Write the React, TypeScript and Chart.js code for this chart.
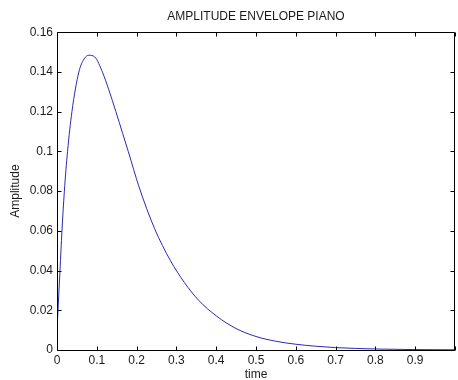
import React, { useEffect, useRef } from "react";
import { Chart, registerables } from "chart.js";

Chart.register(...registerables);

const chartTitle = "AMPLITUDE ENVELOPE PIANO";
const xLabel = "time";
const yLabel = "Amplitude";

const timeValues = [
  0, 0.0025, 0.0075, 0.0125, 0.0185, 0.0265, 0.0375, 0.055, 0.068, 0.08,
  0.095, 0.115, 0.13, 0.148, 0.165, 0.179, 0.206, 0.245, 0.285, 0.32, 0.356,
  0.4, 0.45, 0.5, 0.55, 0.6, 0.65, 0.7, 0.75, 0.8, 0.9, 1.0,
];
const amplitudeValues = [
  0.01, 0.02, 0.04, 0.06, 0.08, 0.1, 0.12, 0.14, 0.1465, 0.1484,
  0.1475, 0.1395, 0.1311, 0.12, 0.109, 0.1, 0.0822, 0.0612, 0.045, 0.034,
  0.025, 0.0172, 0.0108, 0.0068, 0.0044, 0.0029, 0.0019, 0.0012, 0.0008,
  0.0005, 0.0002, 0.0001,
];

const xMin = 0;
const xMax = 1;
const xStep = 0.1;
const yMin = 0;
const yMax = 0.16;
const yStep = 0.02;

const textColor = "#1a1a1a";
const lineColor = "#2a2ab4";
const fontFamily = "'Liberation Sans', Arial, sans-serif";

const matlabAxes = {
  id: "matlabAxes",
  afterDraw(chart: any) {
    const { ctx, chartArea } = chart;
    const xs = chart.scales.x;
    const ys = chart.scales.y;
    const l = Math.round(chartArea.left) + 0.5;
    const r = Math.round(chartArea.right) - 0.5;
    const t = Math.round(chartArea.top) + 0.5;
    const b = Math.round(chartArea.bottom) + 0.5;
    const len = 4;
    ctx.save();
    ctx.strokeStyle = "#000";
    ctx.lineWidth = 1;
    ctx.beginPath();
    ctx.moveTo(l, t);
    ctx.lineTo(r, t);
    ctx.lineTo(r, b);
    ctx.lineTo(l, b);
    ctx.closePath();
    ctx.stroke();
    ctx.beginPath();
    xs.ticks.forEach((tk: any) => {
      const px = Math.round(xs.getPixelForValue(tk.value)) + 0.5;
      ctx.moveTo(px, b);
      ctx.lineTo(px, b - len);
      ctx.moveTo(px, t);
      ctx.lineTo(px, t + len);
    });
    ys.ticks.forEach((tk: any) => {
      const py = Math.round(ys.getPixelForValue(tk.value)) + 0.5;
      ctx.moveTo(l, py);
      ctx.lineTo(l + len, py);
      ctx.moveTo(r, py);
      ctx.lineTo(r - len, py);
    });
    ctx.stroke();
    ctx.restore();
  },
};

export default function App() {
  const canvasRef = useRef<HTMLCanvasElement | null>(null);

  useEffect(() => {
    if (!canvasRef.current) return;
    const points = timeValues.map((t, i) => ({ x: t, y: amplitudeValues[i] }));
    const chart = new Chart(canvasRef.current, {
      type: "line",
      data: {
        datasets: [
          {
            data: points,
            borderColor: lineColor,
            borderWidth: 1,
            pointRadius: 0,
            fill: false,
            cubicInterpolationMode: "monotone",
          },
        ],
      },
      options: {
        animation: false,
        responsive: false,
        maintainAspectRatio: false,
        layout: { padding: 0 },
        plugins: {
          legend: { display: false },
          tooltip: { enabled: false },
          title: {
            display: true,
            fullSize: false,
            text: chartTitle,
            color: textColor,
            font: { family: fontFamily, size: 12, weight: "normal", lineHeight: 1.2 },
            padding: { top: 9.5, bottom: 8.3 },
          },
        },
        scales: {
          x: {
            type: "linear",
            min: xMin,
            max: xMax,
            grid: { display: false, drawTicks: false, tickLength: 0 },
            border: { display: false },
            ticks: {
              stepSize: xStep,
              autoSkip: false,
              maxRotation: 0,
              padding: 3,
              color: textColor,
              font: { family: fontFamily, size: 12 },
              callback: (v: any) => (Number(v) >= 1 ? "" : String(Math.round(Number(v) * 10) / 10)),
            },
            title: {
              display: true,
              text: xLabel,
              color: textColor,
              font: { family: fontFamily, size: 12, lineHeight: 1 },
              padding: { top: 0, bottom: -1 },
            },
            afterFit: (scale: any) => {
              scale.height = 30;
            },
          },
          y: {
            type: "linear",
            min: yMin,
            max: yMax,
            grid: { display: false, drawTicks: false, tickLength: 0 },
            border: { display: false },
            ticks: {
              stepSize: yStep,
              autoSkip: false,
              padding: 4,
              color: textColor,
              font: { family: fontFamily, size: 12 },
              callback: (v: any) => String(Math.round(Number(v) * 100) / 100),
            },
            title: {
              display: true,
              text: yLabel,
              color: textColor,
              font: { family: fontFamily, size: 12, lineHeight: 1.2 },
              padding: { top: 8, bottom: 0 },
            },
            afterFit: (scale: any) => {
              scale.width = 57;
            },
          },
        },
      },
      plugins: [matlabAxes],
    } as any);
    return () => chart.destroy();
  }, []);

  return (
    <div style={{ position: "fixed", left: 0, top: 0, width: 458, height: 380, background: "#fff" }}>
      <canvas ref={canvasRef} width={458} height={380} style={{ display: "block" }} />
    </div>
  );
}
